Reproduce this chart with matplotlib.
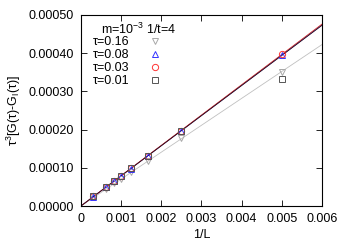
import numpy as np
import matplotlib.pyplot as plt

plt.rcParams['font.family'] = ['Liberation Sans', 'DejaVu Sans']
plt.rcParams['mathtext.fontset'] = 'custom'
plt.rcParams['mathtext.rm'] = 'Liberation Sans'
plt.rcParams['mathtext.it'] = 'Liberation Sans'

# 1/L
inv_L = [0.0003125, 0.000625, 0.000833, 0.001, 0.00125, 0.001667, 0.0025, 0.005]

tau016 = [0.0000225, 0.0000440, 0.0000590, 0.0000710, 0.0000880, 0.0001170, 0.0001780, 0.0003510]
tau008 = [0.0000245, 0.0000490, 0.0000655, 0.0000785, 0.0000980, 0.0001305, 0.0001960, 0.0003960]
tau003 = [0.0000250, 0.0000495, 0.0000660, 0.0000790, 0.0000985, 0.0001310, 0.0001970, 0.0003980]
tau001 = [0.0000250, 0.0000495, 0.0000660, 0.0000790, 0.0000985, 0.0001310, 0.0001970, 0.0003320]

series = [
    ('τ=0.16', tau016, '#a8a8a8', '#c0c0c0', 'v', 8),
    ('τ=0.08', tau008, '#3333ff', '#4040ff', '^', 8),
    ('τ=0.03', tau003, '#ff3333', '#d02020', 'o', 8),
    ('τ=0.01', tau001, '#555555', '#301010', 's', 7),  # 拟合不含最后一点
]

fig = plt.figure(figsize=(3.5, 2.45), dpi=100)
ax = fig.add_axes([0.231, 0.159, 0.689, 0.78])

x = np.array(inv_L)
xf = np.array([0.0, 0.006])
for label, y, c, lc, m, n in series:
    y = np.array(y)
    k = np.sum(x[:n] * y[:n]) / np.sum(x[:n] ** 2)
    ax.plot(xf, k * xf, color=lc, lw=0.6, zorder=2)
for label, y, c, lc, m, n in series:
    ax.plot(inv_L, y, ls='none', marker=m, ms=4.5, mfc='none', mec=c, mew=0.7,
            label=label, zorder=3)

ax.set_xlim(0, 0.006)
ax.set_ylim(0, 0.0005)
ax.set_xticks(np.arange(0, 0.0061, 0.001))
ax.set_xticklabels(['0', '0.001', '0.002', '0.003', '0.004', '0.005', '0.006'])
ax.set_yticks(np.arange(0, 0.00051, 0.0001))
ax.set_yticklabels(['%.5f' % v for v in np.arange(0, 0.00051, 0.0001)])
ax.tick_params(direction='in', top=True, right=True, labelsize=9, length=4, width=0.6, pad=5)
for s in ax.spines.values():
    s.set_linewidth(0.8)

ax.set_xlabel('1/L', fontsize=9, labelpad=3)
ax.set_ylabel(r'τ$^3$[G(τ)-G$_I$(τ)]', fontsize=9, labelpad=4)

ax.text(0.085, 0.925, r'm=10$^{-3}$ 1/t=4', transform=ax.transAxes,
        fontsize=9, ha='left', va='center')
ax.legend(loc='upper left', bbox_to_anchor=(0.05, 0.888), frameon=False,
          markerfirst=False, fontsize=9, handlelength=1.0, handletextpad=1.55,
          labelspacing=0.08, borderaxespad=0.0, borderpad=0.0)

fig.savefig('out.png', dpi=100)
